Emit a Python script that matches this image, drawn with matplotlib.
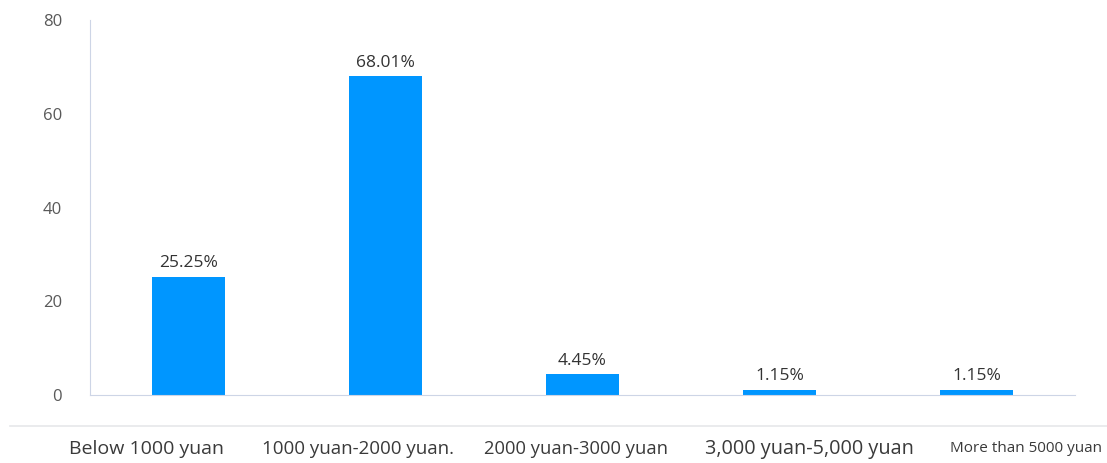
import matplotlib.pyplot as plt
from matplotlib.lines import Line2D

# income brackets and share of respondents (%)
categorias = ["Below 1000 yuan", "1000 yuan-2000 yuan.", "2000 yuan-3000 yuan",
              "3,000 yuan-5,000 yuan", "More than 5000 yuan"]
valores = [25.25, 68.01, 4.45, 1.15, 1.15]
etiquetas = ["25.25%", "68.01%", "4.45%", "1.15%", "1.15%"]
yticks = [0, 20, 40, 60, 80]

# tamano y desplazamiento (px) de cada nombre de categoria
tamanos = [14, 13.5, 13.2, 14.3, 11]
desplaz = [-42, -28, -7, 30, 50]

plt.rcParams['font.family'] = ['Open Sans', 'DejaVu Sans']

W, H = 1107, 463
fig = plt.figure(figsize=(W / 100, H / 100), dpi=100)
ax = fig.add_axes([90 / W, 1 - 395 / H, 985 / W, 375 / H])

x = range(len(valores))
barras = ax.bar(x, valores, width=0.37, color='#0096FF')

for b, t in zip(barras, etiquetas):
    ax.annotate(t, (b.get_x() + b.get_width() / 2, b.get_height()),
                xytext=(0, 4), textcoords='offset points',
                ha='center', va='bottom', fontsize=12.5, color='#333333')

ax.set_xlim(-0.5, 4.5)
ax.set_ylim(0, 80)
ax.set_yticks(yticks)
ax.tick_params(axis='y', length=0, pad=20, labelsize=12, labelcolor='#595959')
ax.set_xticks([])

for s in ['top', 'right']:
    ax.spines[s].set_visible(False)
ax.spines['left'].set_color('#cdd5e6')
ax.spines['bottom'].set_color('#cdd5e6')

# linea separadora de la franja inferior
fig.add_artist(Line2D([10 / W, 1], [1 - 426 / H] * 2, transform=fig.transFigure,
                      color='#e6e8ea', linewidth=1.2))

for i, (c, fs, dx) in enumerate(zip(categorias, tamanos, desplaz)):
    xp = ax.transData.transform((i, 0))[0] + dx
    fig.text(xp / W, 1 - 449 / H, c, ha='center', va='center', fontsize=fs,
             color='#3a3a3a')

fig.savefig("out.png", dpi=100)
